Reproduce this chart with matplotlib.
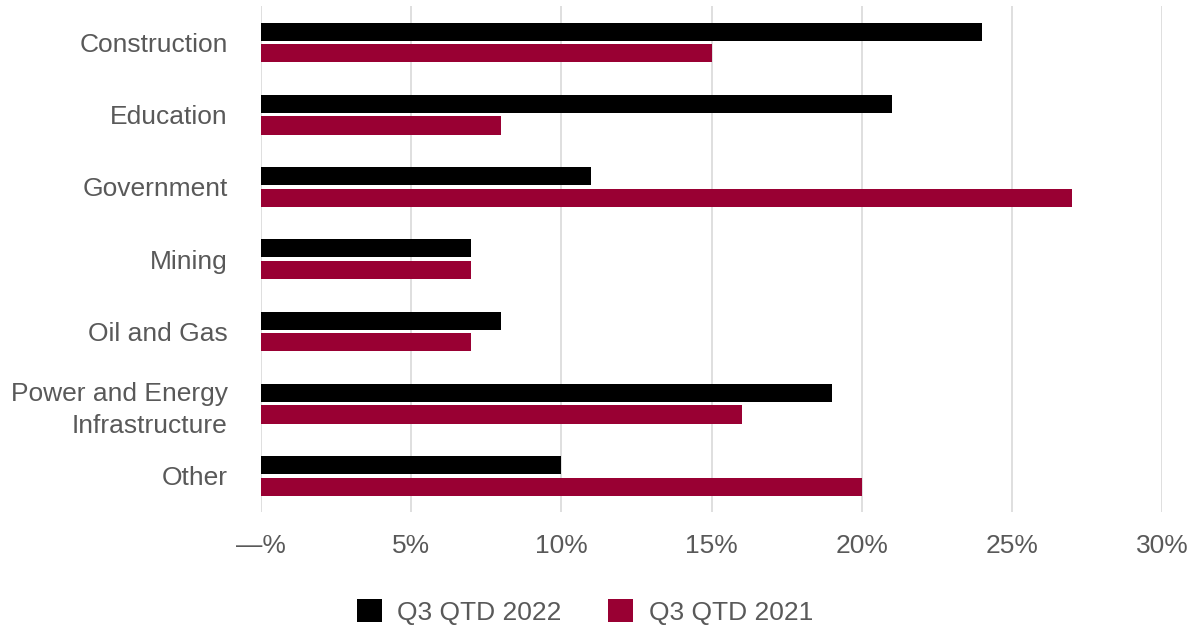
import matplotlib.pyplot as plt
import numpy as np
from matplotlib.ticker import FuncFormatter

plt.rcParams['font.family'] = ['Liberation Sans', 'DejaVu Sans']

categories = ['Construction', 'Education', 'Government', 'Mining',
              'Oil and Gas', 'Power and Energy\nInfrastructure', 'Other']
q3_2022 = [24, 21, 11, 7, 8, 19, 10]
q3_2021 = [15, 8, 27, 7, 7, 16, 20]
series_names = ['Q3 QTD 2022', 'Q3 QTD 2021']

text_color = '#595959'
c_2022 = '#000000'
c_2021 = '#990033'
fs = 19

fig = plt.figure(figsize=(11.96, 6.29), dpi=100)
ax = fig.add_axes([0.2182, 0.186, 0.7534, 0.804])

y = np.arange(len(categories))
h = 0.25
ax.barh(y - 0.15, q3_2022, height=h, color=c_2022, label=series_names[0], zorder=3)
ax.barh(y + 0.15, q3_2021, height=h, color=c_2021, label=series_names[1], zorder=3)

ax.set_ylim(len(categories) - 0.5, -0.5)
ax.set_xlim(0, 30)
ax.set_xticks(np.arange(0, 31, 5))
ax.xaxis.set_major_formatter(FuncFormatter(lambda v, p: '—%' if v == 0 else f'{v:.0f}%'))
ax.set_yticks(y)
ax.set_yticklabels(categories)

ax.grid(axis='x', color='#d9d9d9', linewidth=1.2, zorder=0)
for s in ax.spines.values():
    s.set_visible(False)
ax.tick_params(axis='both', length=0, labelsize=fs, labelcolor=text_color)
ax.tick_params(axis='x', pad=16)
ax.tick_params(axis='y', pad=24)
for lbl in ax.get_yticklabels():
    lbl.set_horizontalalignment('right')
    lbl.set_multialignment('right')
    lbl.set_linespacing(1.4)

fig.legend(loc='lower center', bbox_to_anchor=(0.489, -0.031), ncol=2, frameon=False,
           fontsize=fs, labelcolor=text_color, handlelength=0.95, handleheight=0.95,
           columnspacing=1.75, handletextpad=0.6)

fig.savefig('out.png', dpi=100)
